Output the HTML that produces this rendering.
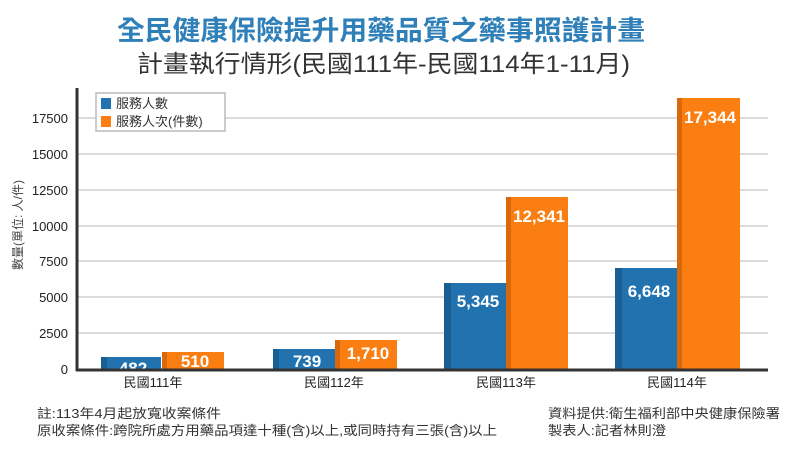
<!DOCTYPE html>
<html><head><meta charset="utf-8"><style>
html,body{margin:0;padding:0;background:#fff;}
svg{display:block;}
text{font-family:"Liberation Sans","Noto Sans CJK TC",sans-serif;}
</style></head><body>
<svg width="800" height="450" xmlns="http://www.w3.org/2000/svg">
<rect width="800" height="450" fill="#fff"/>
<text x="117" y="40" textLength="528" lengthAdjust="spacingAndGlyphs" font-size="27" font-weight="bold" fill="#2f7fb8">全民健康保險提升用藥品質之藥事照護計畫</text>
<text x="137" y="72" textLength="493" lengthAdjust="spacingAndGlyphs" font-size="24" fill="#333">計畫執行情形(民國111年-民國114年1-11月)</text>
<g stroke="#cfcfcf" stroke-width="1.5">
<line x1="77" y1="333" x2="768" y2="333"/><line x1="77" y1="297" x2="768" y2="297"/>
<line x1="77" y1="261" x2="768" y2="261"/><line x1="77" y1="226" x2="768" y2="226"/>
<line x1="77" y1="190" x2="768" y2="190"/><line x1="77" y1="154" x2="768" y2="154"/>
<line x1="77" y1="118" x2="768" y2="118"/>
</g>
<g font-size="13" fill="#222" text-anchor="end">
<text x="68" y="374">0</text><text x="68" y="338">2500</text><text x="68" y="302">5000</text>
<text x="68" y="266">7500</text><text x="68" y="231">10000</text><text x="68" y="195">12500</text>
<text x="68" y="159">15000</text><text x="68" y="123">17500</text>
</g>
<text transform="translate(22,225) rotate(-90)" text-anchor="middle" font-size="12" fill="#444">數量(單位: 人/件)</text>
<g>
<rect x="101" y="357" width="60" height="12" fill="#2272b0"/><rect x="101" y="357" width="6" height="12" fill="#1a5f94"/>
<rect x="162" y="352" width="62" height="17" fill="#fb7e12"/><rect x="162" y="352" width="5" height="17" fill="#d9680a"/>
<rect x="273" y="349" width="62" height="20" fill="#2272b0"/><rect x="273" y="349" width="6" height="20" fill="#1a5f94"/>
<rect x="335" y="340" width="62" height="29" fill="#fb7e12"/><rect x="335" y="340" width="5" height="29" fill="#d9680a"/>
<rect x="444" y="283" width="62" height="86" fill="#2272b0"/><rect x="444" y="283" width="7" height="86" fill="#1a5f94"/>
<rect x="506" y="197" width="62" height="172" fill="#fb7e12"/><rect x="506" y="197" width="5" height="172" fill="#d9680a"/>
<rect x="615" y="268" width="62" height="101" fill="#2272b0"/><rect x="615" y="268" width="7" height="101" fill="#1a5f94"/>
<rect x="677" y="98" width="63" height="271" fill="#fb7e12"/><rect x="677" y="98" width="5" height="271" fill="#d9680a"/>
</g>
<g font-size="17" fill="#fff" text-anchor="middle" font-weight="bold">
<text x="133" y="374">482</text><text x="195" y="367">510</text>
<text x="307" y="367">739</text><text x="368" y="359">1,710</text>
<text x="478" y="307">5,345</text><text x="539" y="222">12,341</text>
<text x="649" y="297">6,648</text><text x="710" y="123">17,344</text>
</g>
<line x1="77" y1="88" x2="77" y2="371" stroke="#333" stroke-width="3"/>
<line x1="76" y1="370" x2="768" y2="370" stroke="#333" stroke-width="3"/>
<g font-size="13" fill="#222" text-anchor="middle">
<text x="153" y="387">民國111年</text><text x="334" y="387">民國112年</text>
<text x="506" y="387">民國113年</text><text x="677" y="387">民國114年</text>
</g>
<rect x="96" y="93" width="129" height="38" fill="#fff" stroke="#bbb" stroke-width="1.5"/>
<rect x="101" y="98" width="10" height="11" fill="#2272b0"/>
<rect x="101" y="116" width="10" height="11" fill="#fb7e12"/>
<g font-size="13" fill="#333"><text x="116" y="108">服務人數</text><text x="116" y="126">服務人次(件數)</text></g>
<g font-size="13" fill="#333">
<text x="37" y="418" textLength="184" lengthAdjust="spacingAndGlyphs">註:113年4月起放寬收案條件</text>
<text x="37" y="435" textLength="460" lengthAdjust="spacingAndGlyphs">原收案條件:跨院所處方用藥品項達十種(含)以上,或同時持有三張(含)以上</text>
<text x="548" y="418" textLength="232" lengthAdjust="spacingAndGlyphs">資料提供:衛生福利部中央健康保險署</text>
<text x="548" y="435" textLength="118" lengthAdjust="spacingAndGlyphs">製表人:記者林則澄</text>
</g>
</svg>
</body></html>
